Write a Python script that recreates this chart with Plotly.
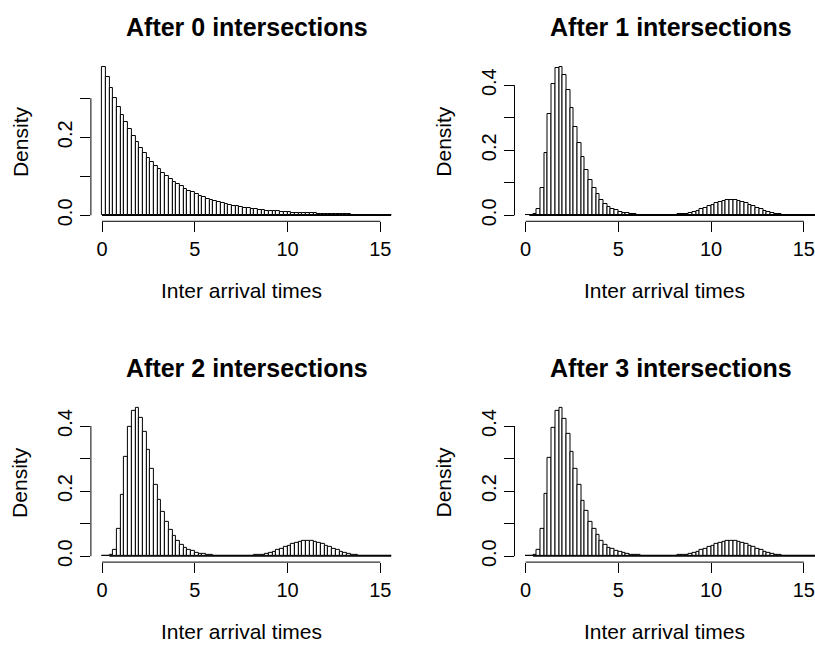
import numpy as np
import plotly.graph_objects as go

# Histogram breaks (bin width 0.2) and bin centres
breaks = np.round(np.arange(0, 15.61, 0.2), 1)
centers = (breaks[:-1] + 0.1).tolist()

titles = ["After 0 intersections", "After 1 intersections",
          "After 2 intersections", "After 3 intersections"]
x_label = "Inter arrival times"
y_label = "Density"
x_ticks = [0, 5, 10, 15]

dens_0 = [
    0.380, 0.355, 0.325, 0.301, 0.278, 0.258, 0.238, 0.220, 0.204, 0.188,
    0.173, 0.160, 0.148, 0.137, 0.127, 0.118, 0.109, 0.101, 0.093, 0.086,
    0.080, 0.074, 0.068, 0.063, 0.059, 0.054, 0.050, 0.046, 0.043, 0.040,
    0.037, 0.034, 0.031, 0.029, 0.027, 0.025, 0.023, 0.021, 0.020, 0.018,
    0.017, 0.016, 0.014, 0.013, 0.012, 0.011, 0.011, 0.010, 0.009, 0.008,
    0.008, 0.007, 0.007, 0.006, 0.006, 0.005, 0.005, 0.005, 0.004, 0.004,
    0.0036, 0.0033, 0.0030, 0.0028, 0.0026, 0.0024, 0.0022, 0.0021, 0.0019, 0.0018,
    0.0016, 0.0015, 0.0014, 0.0013, 0.0012, 0.0011, 0.0010, 0.0010,
]
dens_1 = [
    0.000, 0.001, 0.004, 0.018, 0.084, 0.191, 0.312, 0.405, 0.452, 0.456,
    0.432, 0.386, 0.330, 0.272, 0.221, 0.178, 0.139, 0.108, 0.084, 0.064,
    0.048, 0.036, 0.027, 0.020, 0.015, 0.011, 0.008, 0.0060, 0.0045, 0.0034,
    0.0025, 0.0019, 0.0014, 0.0011, 0.0009, 0.0008, 0.0008, 0.0009, 0.0010, 0.0014,
    0.0018, 0.0026, 0.0038, 0.0055, 0.0077, 0.0106, 0.0141, 0.0182, 0.0229, 0.0279,
    0.0329, 0.0377, 0.0419, 0.0452, 0.0473, 0.0480, 0.0473, 0.0452, 0.0419, 0.0377,
    0.0329, 0.0279, 0.0229, 0.0182, 0.0141, 0.0106, 0.0077, 0.0054, 0.0037, 0.0025,
    0.0016, 0.0010, 0.0006, 0.0004, 0.0002, 0.0001, 0.0001, 0.0000,
]
dens_2 = [
    0.000, 0.000, 0.003, 0.020, 0.083, 0.188, 0.305, 0.398, 0.446, 0.456,
    0.426, 0.381, 0.327, 0.268, 0.219, 0.174, 0.137, 0.106, 0.082, 0.062,
    0.047, 0.035, 0.027, 0.020, 0.015, 0.011, 0.008, 0.0060, 0.0044, 0.0033,
    0.0025, 0.0019, 0.0014, 0.0011, 0.0009, 0.0008, 0.0008, 0.0009, 0.0011, 0.0014,
    0.0019, 0.0027, 0.0038, 0.0054, 0.0076, 0.0104, 0.0139, 0.0180, 0.0226, 0.0275,
    0.0323, 0.0370, 0.0411, 0.0443, 0.0463, 0.0470, 0.0465, 0.0446, 0.0414, 0.0372,
    0.0325, 0.0276, 0.0226, 0.0180, 0.0139, 0.0105, 0.0076, 0.0054, 0.0037, 0.0025,
    0.0016, 0.0010, 0.0006, 0.0004, 0.0002, 0.0001, 0.0001, 0.0000,
]
dens_3 = [
    0.000, 0.000, 0.003, 0.019, 0.083, 0.190, 0.302, 0.394, 0.446, 0.456,
    0.421, 0.376, 0.321, 0.268, 0.220, 0.171, 0.138, 0.106, 0.083, 0.065,
    0.048, 0.036, 0.027, 0.021, 0.016, 0.012, 0.009, 0.0065, 0.0048, 0.0035,
    0.0026, 0.0019, 0.0014, 0.0011, 0.0009, 0.0008, 0.0008, 0.0009, 0.0011, 0.0014,
    0.0018, 0.0026, 0.0037, 0.0053, 0.0075, 0.0104, 0.0140, 0.0181, 0.0228, 0.0277,
    0.0326, 0.0374, 0.0416, 0.0448, 0.0470, 0.0478, 0.0472, 0.0451, 0.0417, 0.0375,
    0.0327, 0.0277, 0.0227, 0.0181, 0.0140, 0.0105, 0.0076, 0.0053, 0.0036, 0.0024,
    0.0016, 0.0010, 0.0006, 0.0004, 0.0002, 0.0001, 0.0001, 0.0000,
]
densities = [dens_0, dens_1, dens_2, dens_3]
y_ticks = [[0, 0.1, 0.2, 0.3], [0, 0.1, 0.2, 0.3, 0.4],
           [0, 0.1, 0.2, 0.3, 0.4], [0, 0.1, 0.2, 0.3, 0.4]]

W, H = 815, 647
FONT = "Liberation Sans, Arial, Helvetica, sans-serif"
X_RANGE = [-0.6, 15.6]

# Plot regions in pixels: (left, right, top, bottom)
regions = [
    (90.9, 391.4, 61.5, 223.0),
    (514.5, 815.0, 61.5, 223.0),
    (90.9, 391.4, 405.0, 566.5),
    (514.5, 815.0, 405.0, 566.5),
]

fig = go.Figure()
shapes, annotations = [], []

for i, (dens, ttl, yt, (l, r, t, b)) in enumerate(zip(densities, titles, y_ticks, regions)):
    n = i + 1
    xa = "x" if n == 1 else f"x{n}"
    ya = "y" if n == 1 else f"y{n}"
    ymax = max(dens)
    y_range = [-0.04 * ymax, 1.04 * ymax]
    dom_x = [l / W, r / W]
    dom_y = [1 - b / H, 1 - t / H]

    # bottom edges of the bars (visible even where a bar is only a sliver tall)
    first = next(k for k, v in enumerate(dens) if v > 0)
    fig.add_trace(go.Scatter(
        x=[breaks[first], breaks[-1]], y=[0, 0], mode="lines",
        line=dict(color="black", width=1.3), xaxis=xa, yaxis=ya,
        showlegend=False, hoverinfo="skip",
    ))
    fig.add_trace(go.Bar(
        x=centers, y=dens, width=0.2, xaxis=xa, yaxis=ya,
        marker=dict(color="white", line=dict(color="black", width=1)),
        showlegend=False, hoverinfo="skip",
    ))

    axis_common = dict(showgrid=False, zeroline=False, showline=False,
                       ticks="outside", ticklen=10, tickwidth=1, tickcolor="black",
                       tickfont=dict(family=FONT, size=20, color="black"))
    fig.layout[f"xaxis{n if n > 1 else ''}"] = dict(
        domain=dom_x, range=X_RANGE, anchor=ya, tickvals=x_ticks,
        ticktext=[str(v) for v in x_ticks], **axis_common)
    fig.layout[f"yaxis{n if n > 1 else ''}"] = dict(
        domain=dom_y, range=y_range, anchor=xa, tickvals=yt,
        ticktext=[f"{v:.1f}" if k % 2 == 0 else "" for k, v in enumerate(yt)],
        tickangle=-90, **axis_common)

    def px(v):
        return dom_x[0] + (v - X_RANGE[0]) / (X_RANGE[1] - X_RANGE[0]) * (dom_x[1] - dom_x[0])

    def py(v):
        return dom_y[0] + (v - y_range[0]) / (y_range[1] - y_range[0]) * (dom_y[1] - dom_y[0])

    # R-style axis lines spanning only the tick range
    shapes.append(dict(type="line", xref="paper", yref="paper",
                       x0=px(x_ticks[0]), x1=px(x_ticks[-1]), y0=dom_y[0], y1=dom_y[0],
                       line=dict(color="black", width=1)))
    shapes.append(dict(type="line", xref="paper", yref="paper",
                       x0=dom_x[0], x1=dom_x[0], y0=py(yt[0]), y1=py(yt[-1]),
                       line=dict(color="black", width=1)))

    cx = (l + r) / 2
    annotations.append(dict(text=f"<b>{ttl}</b>", xref="paper", yref="paper",
                            x=(cx + 6) / W, y=1 - (t - 34.5) / H, showarrow=False,
                            xanchor="center", yanchor="middle",
                            font=dict(family=FONT, size=25, color="black")))
    annotations.append(dict(text=x_label, xref="paper", yref="paper",
                            x=cx / W, y=1 - (b + 70) / H, showarrow=False,
                            xanchor="center", yanchor="middle",
                            font=dict(family=FONT, size=21, color="black")))
    annotations.append(dict(text=y_label, xref="paper", yref="paper",
                            x=(l - 71) / W, y=1 - ((t + b) / 2) / H, showarrow=False,
                            textangle=-90, xanchor="center", yanchor="middle",
                            font=dict(family=FONT, size=21, color="black")))

fig.update_layout(
    width=W, height=H, autosize=False,
    margin=dict(l=0, r=0, t=0, b=0),
    paper_bgcolor="white", plot_bgcolor="white",
    bargap=0, shapes=shapes, annotations=annotations,
)

fig.write_html("out.html")
